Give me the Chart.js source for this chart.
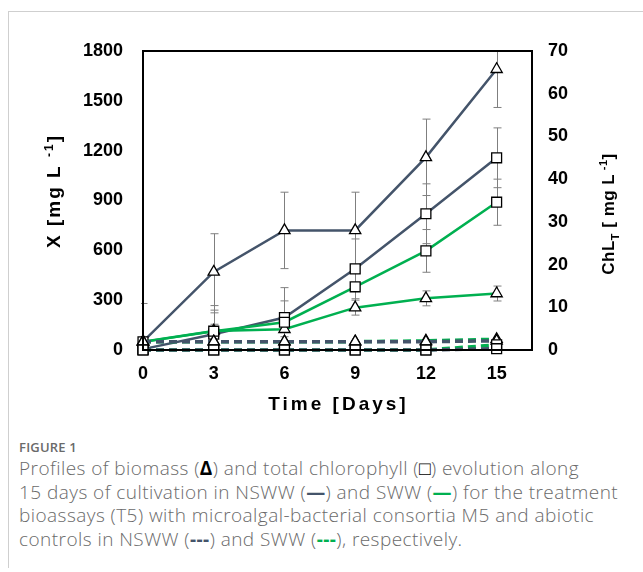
<!DOCTYPE html>
<html>
<head>
<meta charset="utf-8">
<script src="https://cdn.jsdelivr.net/npm/chart.js@4.4.0/dist/chart.umd.min.js"></script>
<style>
  body { margin: 0; background: #fff; }
  #frame { position: absolute; left: 8px; top: 11px; width: 640px; height: 556px;
           border-top: 1px solid #cfcfcf; border-left: 1px solid #cfcfcf; }
  #c { position: absolute; left: 0; top: 0; }
  #cap { position: absolute; left: 19px; top: 438px; width: 620px; white-space: nowrap;
         font-family: "Open Sans", sans-serif; color: #6a6a6a; }
  #cap .fig { font-size: 13px; font-weight: 600; letter-spacing: 0.2px; margin-bottom: 1px; }
  #cap .txt { font-size: 19px; line-height: 23.5px; font-weight: 300; letter-spacing: 0.45px; }
  .b { color: #44546A; font-weight: 700; }
  .g { color: #00B050; font-weight: 700; }
  .k { color: #000; font-weight: 700; }
</style>
</head>
<body>
<div id="frame"></div>
<canvas id="c" width="643" height="430"></canvas>
<div id="cap">
  <div class="fig">FIGURE 1</div>
  <div class="txt">Profiles of biomass (<span class="k">&Delta;</span>) and total chlorophyll (<span class="k">&#9633;</span>) evolution along<br>15 days of cultivation in NSWW (<span class="b">&mdash;</span>) and SWW (<span class="g">&mdash;</span>) for the treatment<br>bioassays (T5) with microalgal-bacterial consortia M5 and abiotic<br>controls in NSWW (<span class="b">---</span>) and SWW (<span class="g">---</span>), respectively.</div>
</div>
<script>
// time axis
var days = [0, 3, 6, 9, 12, 15];
var xTicks = [0, 3, 6, 9, 12, 15];
var yTicks = [0, 300, 600, 900, 1200, 1500, 1800];
var y2Ticks = [0, 10, 20, 30, 40, 50, 60, 70];

// biomass X [mg/L] (left axis, triangles)
var bioNSWW = [50, 470, 720, 720, 1160, 1690];
var bioNSWWErr = [230, 230, 230, 230, 230, 230];
var bioSWW = [50, 115, 125, 255, 311, 340];
var bioSWWErr = [0, 40, 45, 45, 45, 45];
var bioCtrlNSWW = [50, 50, 50, 50, 50, 55];
var bioCtrlSWW = [50, 50, 50, 50, 55, 65];

// total chlorophyll ChLT [mg/L] (right axis, squares)
var chlNSWW = [0.2, 3.7, 7.6, 19.0, 31.9, 45.0];
var chlNSWWErr = [0, 5, 7, 7, 7, 7];
var chlSWW = [1.9, 4.4, 6.5, 14.8, 23.2, 34.6];
var chlSWWErr = [0, 6, 5, 5, 5, 5.4];
var chlCtrlNSWW = [0, 0, 0, 0, 0, 0.3];
var chlCtrlSWW = [0, 0, 0, 0, 0, 1.2];

var BLUE = '#44546A';
var GREEN = '#00B050';

function pts(vals) {
    return days.map(function (d, i) { return { x: d, y: vals[i] }; });
}

function series(label, vals, err, color, axis, shape, dashed) {
    return {
        label: label,
        data: pts(vals),
        err: err,
        yAxisID: axis,
        borderColor: color,
        borderWidth: dashed ? 3.5 : 2.5,
        borderDash: dashed ? [8, 5] : [],
        pointStyle: shape,
        pointRadius: shape === 'triangle' ? 6.5 : 7,
        pointBackgroundColor: '#fff',
        pointBorderColor: '#000',
        pointBorderWidth: 1.3,
        tension: 0,
        clip: false,
        fill: false
    };
}

var boxAndTitles = {
    id: 'boxAndTitles',
    beforeDatasetsDraw: function (chart) {
        var ctx = chart.ctx, a = chart.chartArea;
        ctx.save();
        ctx.beginPath();
        ctx.rect(a.left - 2, a.top, a.right - a.left + 4, a.bottom - a.top);
        ctx.clip();
        ctx.strokeStyle = '#7f7f7f';
        ctx.lineWidth = 1;
        chart.data.datasets.forEach(function (ds) {
            if (!ds.err) return;
            var ys = chart.scales[ds.yAxisID];
            ds.data.forEach(function (p, i) {
                var e = ds.err[i];
                if (!e) return;
                var x = Math.round(chart.scales.x.getPixelForValue(p.x)) + 0.5;
                var y1 = ys.getPixelForValue(p.y + e), y0 = ys.getPixelForValue(p.y - e);
                ctx.beginPath();
                ctx.moveTo(x, y1); ctx.lineTo(x, y0);
                ctx.moveTo(x - 4, y1); ctx.lineTo(x + 4, y1);
                ctx.moveTo(x - 4, y0); ctx.lineTo(x + 4, y0);
                ctx.stroke();
            });
        });
        ctx.restore();
    },
    afterDraw: function (chart) {
        var ctx = chart.ctx, a = chart.chartArea;
        ctx.save();
        ctx.strokeStyle = '#000';
        ctx.lineWidth = 2;
        ctx.strokeRect(a.left, a.top, a.right - a.left, a.bottom - a.top);

        ctx.fillStyle = '#000';
        ctx.textBaseline = 'middle';
        ctx.textAlign = 'center';
        ctx.font = 'bold 19px "Liberation Sans", Arial, sans-serif';
        ctx.letterSpacing = '3px';
        ctx.fillText('Time [Days]', (a.left + a.right) / 2 + 1, 405);

        ctx.letterSpacing = '2px';
        drawRotated(ctx, 53, 191, [
            { t: 'X [mg L ', s: 19 }, { t: '-1', s: 12, dy: -7 }, { t: ']', s: 19 }
        ]);
        ctx.letterSpacing = '0.5px';
        drawRotated(ctx, 607, 214, [
            { t: 'ChL', s: 17 }, { t: 'T', s: 11, dy: 5 }, { t: ' [ mg L', s: 17 },
            { t: ' -1', s: 11, dy: -7 }, { t: ']', s: 17 }
        ]);
        ctx.restore();
    }
};

function drawRotated(ctx, cx, cy, parts) {
    var w = 0;
    parts.forEach(function (p) {
        ctx.font = 'bold ' + p.s + 'px "Liberation Sans", Arial, sans-serif';
        p.w = ctx.measureText(p.t).width;
        w += p.w;
    });
    ctx.save();
    ctx.translate(cx, cy);
    ctx.rotate(-Math.PI / 2);
    ctx.textAlign = 'left';
    ctx.textBaseline = 'alphabetic';
    var x = -w / 2;
    parts.forEach(function (p) {
        ctx.font = 'bold ' + p.s + 'px "Liberation Sans", Arial, sans-serif';
        ctx.fillText(p.t, x, 7 + (p.dy || 0));
        x += p.w;
    });
    ctx.restore();
}

var tickFont = { family: '"Liberation Sans", Arial, sans-serif', size: 18, weight: 'bold' };
function plain(v) { return String(v); }

var ctx = document.getElementById('c').getContext('2d');
new Chart(ctx, {
    type: 'line',
    data: {
        datasets: [
            series('Control NSWW chl', chlCtrlNSWW, null, BLUE, 'y2', 'rect', true),
            series('Control SWW chl', chlCtrlSWW, null, GREEN, 'y2', 'rect', true),
            series('Control NSWW X', bioCtrlNSWW, null, BLUE, 'y', 'triangle', true),
            series('Control SWW X', bioCtrlSWW, null, GREEN, 'y', 'triangle', true),
            series('SWW chl', chlSWW, chlSWWErr, GREEN, 'y2', 'rect', false),
            series('SWW X', bioSWW, bioSWWErr, GREEN, 'y', 'triangle', false),
            series('NSWW chl', chlNSWW, chlNSWWErr, BLUE, 'y2', 'rect', false),
            series('NSWW X', bioNSWW, bioNSWWErr, BLUE, 'y', 'triangle', false)
        ]
    },
    options: {
        responsive: false,
        animation: false,
        devicePixelRatio: 1,
        layout: { padding: { top: 51, left: 0, right: 0, bottom: 0 } },
        plugins: { legend: { display: false }, tooltip: { enabled: false } },
        scales: {
            x: {
                type: 'linear',
                min: 0,
                max: 16.5,
                afterBuildTicks: function (s) { s.ticks = xTicks.map(function (v) { return { value: v }; }); },
                afterFit: function (s) { s.height = 80; },
                grid: { display: false, drawTicks: false },
                border: { display: false },
                ticks: { font: tickFont, color: '#000', padding: 13, maxRotation: 0, callback: plain }
            },
            y: {
                position: 'left',
                min: 0,
                max: 1800,
                afterBuildTicks: function (s) { s.ticks = yTicks.map(function (v) { return { value: v }; }); },
                afterFit: function (s) { s.width = 143; },
                grid: { display: false, drawTicks: false },
                border: { display: false },
                ticks: { font: tickFont, color: '#000', padding: 20, callback: plain }
            },
            y2: {
                position: 'right',
                min: 0,
                max: 70,
                afterBuildTicks: function (s) { s.ticks = y2Ticks.map(function (v) { return { value: v }; }); },
                afterFit: function (s) { s.width = 111; },
                grid: { display: false, drawTicks: false },
                border: { display: false },
                ticks: { font: tickFont, color: '#000', padding: 16, callback: plain }
            }
        }
    },
    plugins: [boxAndTitles]
});
</script>
</body>
</html>
